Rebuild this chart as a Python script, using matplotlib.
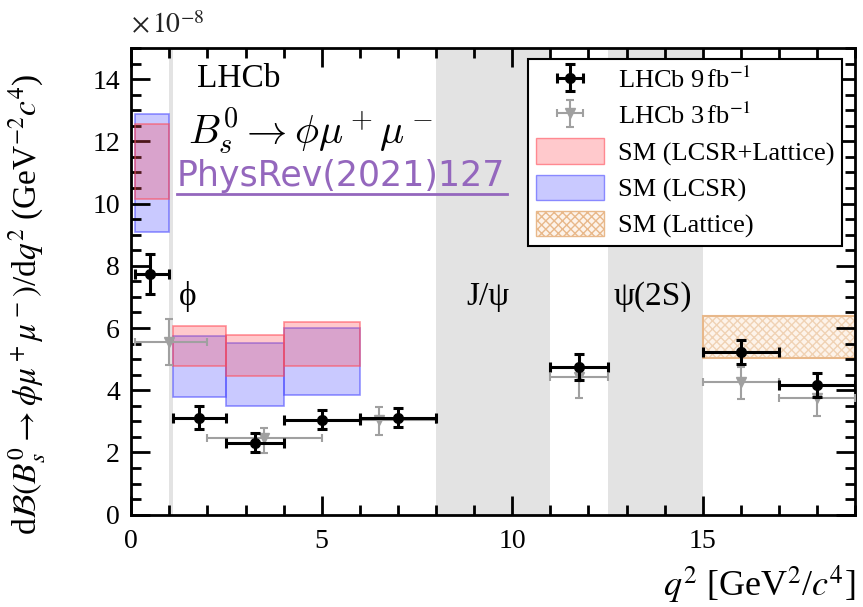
import matplotlib
matplotlib.use("Agg")
import matplotlib.pyplot as plt
from matplotlib.patches import Rectangle, Patch
from matplotlib.ticker import MultipleLocator

plt.rcParams["font.family"] = "Liberation Serif"
plt.rcParams["mathtext.fontset"] = "stix"

# LHCb 9 fb^-1
run2_x = [0.49, 1.77, 3.24, 5.0, 7.0, 11.75, 16.0, 18.0]
run2_lo = [0.1, 1.1, 2.5, 4.0, 6.0, 11.0, 15.0, 17.0]
run2_hi = [0.98, 2.5, 4.0, 6.0, 8.0, 12.5, 17.0, 19.0]
run2_y = [7.74, 3.12, 2.32, 3.06, 3.12, 4.74, 5.23, 4.16]
run2_err = [0.65, 0.36, 0.3, 0.32, 0.3, 0.42, 0.4, 0.39]

# LHCb 3 fb^-1
run1_x = [1.0, 3.48, 6.5, 11.75, 16.0, 18.0]
run1_lo = [0.1, 2.0, 5.0, 11.0, 15.0, 17.0]
run1_hi = [2.0, 5.0, 8.0, 12.5, 17.0, 19.0]
run1_y = [5.55, 2.45, 3.05, 4.42, 4.26, 3.74]
run1_up = [0.75, 0.35, 0.42, 0.4, 0.5, 0.45]
run1_dn = [0.75, 0.48, 0.5, 0.68, 0.55, 0.58]

# SM predictions
sm_lo = [0.1, 1.1, 2.5, 4.0]
sm_hi = [0.98, 2.5, 4.0, 6.0]
comb_lo = [10.15, 4.77, 4.45, 4.77]
comb_hi = [12.55, 6.06, 5.77, 6.19]
lcsr_lo = [9.1, 3.77, 3.48, 3.84]
lcsr_hi = [12.87, 5.74, 5.52, 6.0]
latt_bin = (15.0, 19.0)
latt_range = (5.03, 6.39)

# vetoed resonance regions
veto_lo = [0.98, 8.0, 12.5]
veto_hi = [1.1, 11.0, 15.0]

red_fc = (1.0, 0.3, 0.35, 0.3)
red_ec = (1.0, 0.3, 0.35, 0.6)
blue_fc = (0.3, 0.3, 1.0, 0.3)
blue_ec = (0.3, 0.3, 1.0, 0.6)

fig = plt.figure(figsize=(8.63, 6.07), dpi=100)
ax = fig.add_axes([0.152, 0.152, 0.839, 0.769])

for a, b in zip(veto_lo, veto_hi):
    ax.axvspan(a, b, color="#e3e3e3", lw=0, zorder=0)

for i in range(len(sm_lo)):
    w = sm_hi[i] - sm_lo[i]
    ax.add_patch(Rectangle((sm_lo[i], lcsr_lo[i]), w, lcsr_hi[i] - lcsr_lo[i],
                           facecolor=blue_fc, edgecolor=blue_ec, lw=1.2, zorder=1))
    ax.add_patch(Rectangle((sm_lo[i], comb_lo[i]), w, comb_hi[i] - comb_lo[i],
                           facecolor=red_fc, edgecolor=red_ec, lw=1.2, zorder=2))

ax.add_patch(Rectangle((latt_bin[0], latt_range[0]), latt_bin[1] - latt_bin[0], latt_range[1] - latt_range[0],
                       facecolor="#fdf3ea", edgecolor="#f0d2b4", hatch="xxxx", lw=0, zorder=1))
ax.add_patch(Rectangle((latt_bin[0], latt_range[0]), latt_bin[1] - latt_bin[0], latt_range[1] - latt_range[0],
                       facecolor="none", edgecolor="#e8b88a", lw=1.5, zorder=1))

x1err = [[x - l for x, l in zip(run1_x, run1_lo)], [h - x for x, h in zip(run1_x, run1_hi)]]
eb1 = ax.errorbar(run1_x, run1_y, xerr=x1err, yerr=[run1_dn, run1_up], fmt="v", color="#a0a0a0",
                  ms=7, elinewidth=1.5, capsize=3, capthick=1.5, zorder=3)

x2err = [[x - l for x, l in zip(run2_x, run2_lo)], [h - x for x, h in zip(run2_x, run2_hi)]]
eb2 = ax.errorbar(run2_x, run2_y, xerr=x2err, yerr=run2_err, fmt="o", color="black",
                  ms=7, elinewidth=2.2, capsize=3.5, capthick=2.2, zorder=4)

ax.set_xlim(0, 19)
ax.set_ylim(0, 15)
ax.xaxis.set_major_locator(MultipleLocator(5))
ax.xaxis.set_minor_locator(MultipleLocator(1))
ax.yaxis.set_major_locator(MultipleLocator(2))
ax.yaxis.set_minor_locator(MultipleLocator(0.5))
ax.tick_params(which="both", direction="in", top=True, right=True, width=2, labelsize=20)
ax.tick_params(which="major", length=14)
ax.tick_params(which="minor", length=7)
ax.tick_params(axis="x", pad=10)
ax.tick_params(axis="y", pad=8)
for s in ax.spines.values():
    s.set_linewidth(2)

fig.text(0.152, 0.958, r"$\times\,10^{-8}$", fontsize=20, ha="left", va="center", color="#222222")
ax.set_xlabel(r"$q^2$ [GeV$^2$/$c^4$]", fontsize=26, ha="right")
ax.xaxis.set_label_coords(1.0, -0.105)
ax.set_ylabel(r"d$\mathcal{B}(B^0_s\to\phi\mu^+\mu^-)$/d$q^2$ (GeV$^{-2}c^4$)", fontsize=24)
ax.yaxis.set_label_coords(-0.115, 0.45)

ax.text(1.72, 14.0, "LHCb", fontsize=24, ha="left", va="center")
ax.text(1.5, 12.3, r"$B_s^0 \to \phi\mu^+\mu^-$", fontsize=29, ha="left", va="center", math_fontfamily="cm")
ax.text(1.2, 10.9, "PhysRev(2021)127", fontsize=25, family="DejaVu Sans", color="#9467bd",
        ha="left", va="center")
ax.plot([1.2, 9.85], [10.3, 10.3], color="#9467bd", lw=2, zorder=5)

ax.text(1.25, 7.0, "ϕ", fontsize=24, ha="left", va="center")
ax.text(8.8, 7.0, "J/ψ", fontsize=24, ha="left", va="center")
ax.text(12.65, 7.0, "ψ(2S)", fontsize=24, ha="left", va="center")

handles = [
    eb2,
    eb1,
    Patch(facecolor=red_fc, edgecolor=red_ec),
    Patch(facecolor=blue_fc, edgecolor=blue_ec),
    Patch(facecolor="#fdf3ea", edgecolor="#e8b88a", hatch="xxxx"),
]
labels = [r"LHCb 9$\,$fb$^{-1}$", r"LHCb 3$\,$fb$^{-1}$", "SM (LCSR+Lattice)", "SM (LCSR)", "SM (Lattice)"]
leg = ax.legend(handles, labels, loc="upper right", bbox_to_anchor=(1.0, 1.005), fontsize=19,
                frameon=True, fancybox=False, edgecolor="black", framealpha=1,
                handlelength=2.6, handleheight=1.1, labelspacing=0.35, borderpad=0.3, handletextpad=0.5)
leg.get_frame().set_linewidth(1.5)

fig.savefig("out.png", dpi=100)
